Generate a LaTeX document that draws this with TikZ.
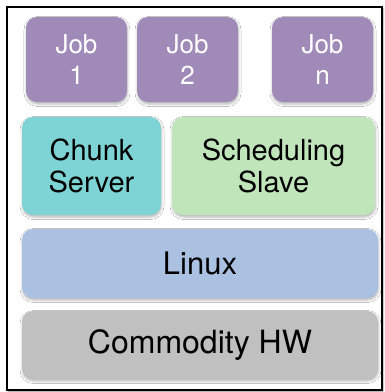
\documentclass[tikz,border=0pt]{standalone}
\usepackage{fontspec}
\setmainfont{TeX Gyre Heros}
\usetikzlibrary{shadows.blur}
\definecolor{jobc}{HTML}{A08AB8}
\definecolor{chunkc}{HTML}{7ED3D4}
\definecolor{schedc}{HTML}{C0E5BB}
\definecolor{linuxc}{HTML}{AAC1E1}
\definecolor{hwc}{HTML}{C0C0C0}
\tikzset{
  layerbox/.style={rounded corners=11pt, inner sep=0pt, align=center, text=black,
    blur shadow={shadow xshift=0.5pt, shadow yshift=-2pt, shadow blur radius=2.5pt, shadow opacity=30}},
  jobbox/.style={layerbox, fill=jobc, text=white, minimum width=101pt, minimum height=85pt,
    font=\fontsize{26}{31}\selectfont},
  midbox/.style={layerbox, minimum height=98pt, font=\fontsize{29}{32}\selectfont},
  widebox/.style={layerbox, minimum width=356pt},
  frame/.style={draw=black, line width=2pt, fill=white,
    blur shadow={shadow xshift=1pt, shadow yshift=-1pt, shadow blur radius=1.5pt, shadow opacity=40}}
}
\begin{document}
\begin{tikzpicture}[x=1pt,y=-1pt]
\useasboundingbox (0,0) rectangle (384,392);
\node[frame, minimum width=375pt, minimum height=383pt, inner sep=0pt] (outer) at (194.5,198.5) {};
\node[jobbox] (job1) at (76.5,59.5) {Job\\1};
\node[jobbox] (job2) at (187.5,59.5) {Job\\2};
\node[jobbox] (jobn) at (322.5,59.5) {Job\\n};
\node[midbox, fill=chunkc, minimum width=139pt] (chunk) at (91.5,166) {Chunk\\Server};
\node[midbox, fill=schedc, minimum width=203pt] (sched) at (273.5,166) {Scheduling\\Slave};
\node[widebox, fill=linuxc, minimum height=69pt, font=\fontsize{31}{34}\selectfont] (linux) at (200,263.5) {Linux};
\node[widebox, fill=hwc, minimum height=68pt, font=\fontsize{32}{35}\selectfont] (hw) at (200,345) {Commodity HW};
\end{tikzpicture}
\end{document}
